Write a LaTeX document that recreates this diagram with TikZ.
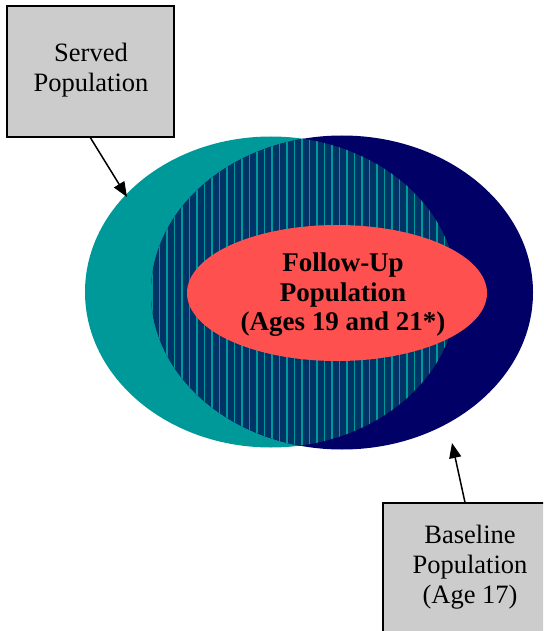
\documentclass[tikz,border=0pt]{standalone}
\usepackage{fontspec}
\setmainfont{Liberation Serif}
\usetikzlibrary{arrows.meta}
\definecolor{tealc}{RGB}{0,153,153}
\definecolor{navyc}{RGB}{0,0,102}
\definecolor{stripebg}{RGB}{0,51,102}
\definecolor{redc}{RGB}{255,80,80}
\definecolor{grayc}{RGB}{204,204,204}
\begin{document}
\begin{tikzpicture}[x=1pt,y=-1pt,
  box/.style={draw=black, line width=1.8pt, fill=grayc, inner sep=0pt},
  boxtext/.style={align=center, font=\fontsize{26.5}{30}\selectfont},
  innertext/.style={align=center, font=\fontsize{27}{29.5}\selectfont\bfseries},
  pointer/.style={-{Triangle[length=15pt,width=12pt]}, line width=1.5pt}]
\clip (0,0) rectangle (543,631);
% served population (teal) and baseline population (navy)
\fill[tealc] (271,292) ellipse [x radius=186, y radius=155.5];
\fill[navyc] (342,292.5) ellipse [x radius=191, y radius=157];
% overlap, striped
\begin{scope}
  \clip (271,292) ellipse [x radius=186, y radius=155.5];
  \fill[stripebg] (342,292.5) ellipse [x radius=191, y radius=157];
  \clip (342,292.5) ellipse [x radius=191, y radius=157];
  \foreach \x in {152,159.5,...,462} \draw[tealc, line width=1.7pt] (\x,130) -- (\x,460);
\end{scope}
% follow-up population
\fill[redc] (337,293) ellipse [x radius=150, y radius=68];
\node[innertext] (followup) at (343,295) {Follow-Up\\Population\\(Ages 19 and 21*)};
% boxes
\node[box, minimum width=167, minimum height=131] (served) at (90.5,71.5) {};
\node[boxtext] (servedlabel) at (91,70.5) {Served\\Population};
\node[box, minimum width=164, minimum height=150, anchor=north west] (baseline) at (382,502) {};
\node[boxtext] (baselinelabel) at (470,567) {Baseline\\Population\\(Age 17)};
% pointers
\coordinate (servedtip) at (127,197);
\coordinate (baselinetip) at (452,443);
\draw[pointer] (served.south) -- (servedtip);
\draw[pointer] (baseline.north) -- (baselinetip);
\end{tikzpicture}
\end{document}
